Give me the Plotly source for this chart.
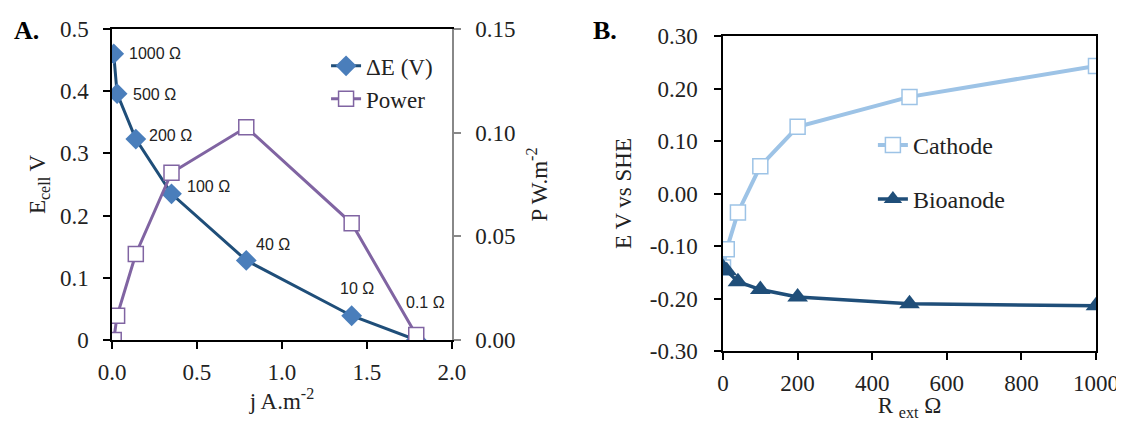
import plotly.graph_objects as go

# Panel A: cell voltage and power density vs current density
j_current = [0.01, 0.03, 0.14, 0.35, 0.79, 1.41, 1.79]
e_cell = [0.460, 0.396, 0.323, 0.235, 0.128, 0.039, 0.0]
power = [0.0, 0.0117, 0.0415, 0.0807, 0.1026, 0.0563, 0.0024]
r_labels = ["1000 Ω", "500 Ω", "200 Ω", "100 Ω", "40 Ω", "10 Ω", "0.1 Ω"]

# Panel B: electrode potentials vs external resistance
r_ext = [0, 10, 40, 100, 200, 500, 1000]
cathode = [-0.141, -0.106, -0.036, 0.052, 0.127, 0.184, 0.243]
bioanode = [-0.141, -0.147, -0.168, -0.183, -0.197, -0.210, -0.214]

# tick labels
a_x_ticks = [0.0, 0.5, 1.0, 1.5, 2.0]
a_y_ticks = [0, 0.1, 0.2, 0.3, 0.4, 0.5]
a_p_ticks = [0.0, 0.05, 0.10, 0.15]
b_y_ticks = [-0.30, -0.20, -0.10, 0.00, 0.10, 0.20, 0.30]
b_y_text = ["-0.30", "-0.20", "-0.10", "0.00", "0.10", "0.20", "0.30"]
b_x_ticks = [0, 200, 400, 600, 800, 1000]

SERIF = "Liberation Serif"
SANS = "Liberation Sans"
DARK_BLUE = "#1F4E79"
MID_BLUE = "#4A7EBB"
PURPLE = "#8064A2"
LIGHT_BLUE = "#9DC3E6"

# pixel offsets of the resistance labels relative to each point
label_shift = [(13, 0), (14, -1), (11, 4), (13, 7), (8, 16), (-14, 27), (-12, 38)]

fig = go.Figure()

fig.add_trace(go.Scatter(
    x=j_current, y=e_cell, mode="lines+markers", name="ΔE (V)",
    line=dict(color=DARK_BLUE, width=3),
    marker=dict(symbol="diamond", size=16, color=MID_BLUE),
    xaxis="x", yaxis="y", legend="legend",
))
fig.add_trace(go.Scatter(
    x=j_current, y=power, mode="lines+markers", name="Power",
    line=dict(color=PURPLE, width=3),
    marker=dict(symbol="square", size=15, color="white", line=dict(color=PURPLE, width=1.5)),
    xaxis="x", yaxis="y3", legend="legend",
))
fig.add_trace(go.Scatter(
    x=r_ext, y=cathode, mode="lines+markers", name="Cathode",
    line=dict(color=LIGHT_BLUE, width=4),
    marker=dict(symbol="square", size=15, color="white", line=dict(color=LIGHT_BLUE, width=1.5)),
    xaxis="x2", yaxis="y2", legend="legend2", legendgroup="b1",
))
fig.add_trace(go.Scatter(
    x=r_ext, y=bioanode, mode="lines+markers", name="Bioanode",
    line=dict(color=DARK_BLUE, width=3.5),
    marker=dict(symbol="triangle-up", size=18, color=DARK_BLUE),
    xaxis="x2", yaxis="y2", legend="legend2", legendgroup="b2",
))

# resistance labels beside each polarisation point
for xv, yv, txt, (dx, dy) in zip(j_current, e_cell, r_labels, label_shift):
    fig.add_annotation(
        x=xv, y=yv, xref="x", yref="y", text=txt, showarrow=False,
        xanchor="left", yanchor="middle", xshift=dx, yshift=dy,
        font=dict(family=SANS, size=16, color="#222222"),
    )

axis_common = dict(
    showline=True, linecolor="black", linewidth=1.5, showgrid=False, zeroline=False,
    ticks="outside", ticklen=7, tickcolor="black", tickwidth=1.5, automargin=False,
    tickfont=dict(family=SERIF, size=23, color="#222222"),
)
title_font = dict(family=SERIF, size=23, color="#222222")

# the page body adds an 8px margin, so the figure is 8px smaller than the window
fig.update_layout(
    width=1116, height=413,
    margin=dict(l=0, r=0, t=0, b=0, autoexpand=False),
    paper_bgcolor="white", plot_bgcolor="white",
    xaxis=dict(
        axis_common, domain=[0.0932, 0.3978], range=[0, 2],
        tickvals=a_x_ticks, tickformat=".1f", mirror=True, anchor="y",
        ticklabelstandoff=4,
        title=dict(text="j A.m<sup>-2</sup>", font=title_font, standoff=6),
    ),
    yaxis=dict(
        axis_common, domain=[0.1961, 0.9492], range=[0, 0.5],
        tickvals=a_y_ticks, anchor="x", ticklabelstandoff=10,
        title=dict(text="E<sub>cell</sub> V", font=title_font, standoff=8),
    ),
    yaxis3=dict(
        axis_common, overlaying="y", side="right", anchor="x", range=[0, 0.15],
        tickvals=a_p_ticks, tickformat=".2f", linecolor="#888888", tickcolor="#888888",
        ticklabelstandoff=10,
        title=dict(text="P W.m<sup>-2</sup>", font=title_font, standoff=16),
    ),
    xaxis2=dict(
        axis_common, domain=[0.6407, 0.9749], range=[0, 1000],
        tickvals=b_x_ticks, mirror=True, anchor="y2", ticklabelstandoff=4,
        title=dict(text="R <sub>ext</sub> Ω", font=title_font, standoff=7),
    ),
    yaxis2=dict(
        axis_common, domain=[0.1695, 0.9322], range=[-0.3, 0.3],
        tickvals=b_y_ticks, ticktext=b_y_text, mirror=True, anchor="x2",
        ticklabelstandoff=12,
        title=dict(text="E V vs SHE", font=title_font, standoff=12),
    ),
    legend=dict(
        x=0.285, y=0.912, xanchor="left", yanchor="top", bgcolor="rgba(0,0,0,0)",
        font=dict(family=SERIF, size=23, color="#222222"),
        itemwidth=30,
    ),
    legend2=dict(
        x=0.775, y=0.722, xanchor="left", yanchor="top", bgcolor="rgba(0,0,0,0)",
        font=dict(family=SERIF, size=24, color="#222222"), tracegroupgap=20,
        itemwidth=30,
    ),
    showlegend=True,
)

fig.add_annotation(x=0.004, y=0.985, xref="paper", yref="paper", text="<b>A.</b>",
                   showarrow=False, xanchor="left", yanchor="top",
                   font=dict(family=SERIF, size=26, color="black"))
fig.add_annotation(x=0.522, y=0.985, xref="paper", yref="paper", text="<b>B.</b>",
                   showarrow=False, xanchor="left", yanchor="top",
                   font=dict(family=SERIF, size=26, color="black"))

fig.write_html("out.html")
